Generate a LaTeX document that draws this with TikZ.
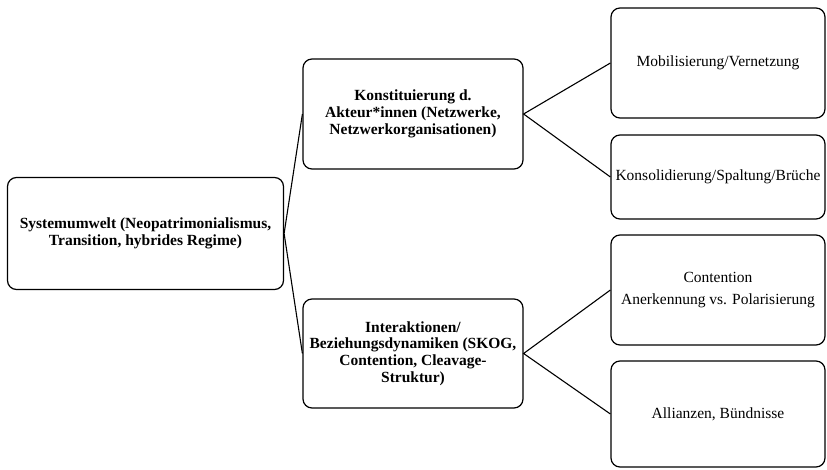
\documentclass[tikz,border=0pt]{standalone}
\usepackage{fontspec}
\setmainfont{Liberation Serif}
\begin{document}
\begin{tikzpicture}[x=1pt,y=-1pt,
  box/.style={draw=black, line width=1.2pt, rounded corners=9pt, align=center, inner sep=2pt, font=\fontsize{15.5}{16.8}\selectfont},
  bbox/.style={box, font=\fontsize{15.5}{16.8}\selectfont\bfseries},
  conn/.style={draw=black, line width=1.1pt}]
\useasboundingbox (0,0) rectangle (827,470);
\node[bbox, minimum width=276pt, minimum height=112pt] (a) at (145.5,233.5) {Systemumwelt (Neopatrimonialismus,\\Transition, hybrides Regime)};
\node[bbox, minimum width=220pt, minimum height=110pt] (b) at (413,114) {Konstituierung d.\\Akteur*innen (Netzwerke,\\Netzwerkorganisationen)};
\node[bbox, minimum width=220pt, minimum height=109pt] (c) at (413,353.5) {Interaktionen/\\Beziehungsdynamiken (SKOG,\\Contention, Cleavage-\\Struktur)};
\node[box, minimum width=214pt, minimum height=110pt] (r1) at (718,63) {Mobilisierung/Vernetzung};
\node[box, minimum width=214pt, minimum height=84pt] (r2) at (718,177) {Konsolidierung/Spaltung/Brüche};
\node[box, minimum width=214pt, minimum height=110pt] (r3) at (718,290) {Contention\\[6pt]Anerkennung vs. Polarisierung};
\node[box, minimum width=214pt, minimum height=106pt] (r4) at (718,414) {Allianzen, Bündnisse};
\draw[conn] (b.west) -- (a.east) -- (c.west);
\draw[conn] (r1.west) -- (b.east) -- (r2.west);
\draw[conn] (r3.west) -- (c.east) -- (r4.west);
\end{tikzpicture}
\end{document}
